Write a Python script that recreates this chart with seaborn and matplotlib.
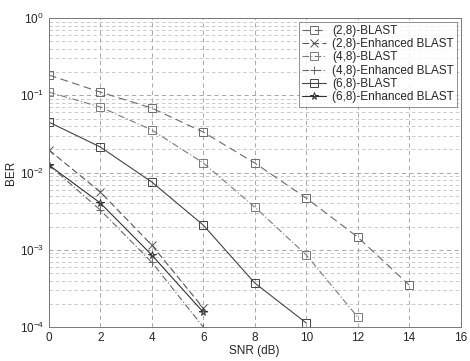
import numpy as np
import pandas as pd
import matplotlib
matplotlib.use("Agg")
import matplotlib.pyplot as plt
import seaborn as sns

# values (BER on log scale)
snr_28 = [0, 2, 4, 6, 8, 10, 12, 14]
ber_28 = [0.183, 0.110, 0.0684, 0.0334, 0.0133, 0.00468, 0.00146, 0.00035]

snr_48 = [0, 2, 4, 6, 8, 10, 12]
ber_48 = [0.110, 0.0705, 0.0355, 0.0133, 0.00357, 0.00086, 0.000135]

snr_68 = [0, 2, 4, 6, 8, 10]
ber_68 = [0.045, 0.0214, 0.00753, 0.00209, 0.000372, 0.000113]

snr_enh = [0, 2, 4, 6]
ber_28_enh = [0.0196, 0.0056, 0.00115, 0.000176]
ber_48_enh = [0.0125, 0.00327, 0.00069, 0.000100]
ber_68_enh = [0.0125, 0.00403, 0.000855, 0.000156]

series = [
    ("(2,8)-BLAST", snr_28, ber_28, (0, (7, 4)), "s", "#6a6a6a"),
    ("(2,8)-Enhanced BLAST", snr_enh, ber_28_enh, (0, (6, 3)), "x", "#555555"),
    ("(4,8)-BLAST", snr_48, ber_48, (0, (6, 2, 1, 2)), "s", "#7a7a7a"),
    ("(4,8)-Enhanced BLAST", snr_enh, ber_48_enh, (0, (6, 2, 1, 2)), "+", "#666666"),
    ("(6,8)-BLAST", snr_68, ber_68, "-", "s", "#444444"),
    ("(6,8)-Enhanced BLAST", snr_enh, ber_68_enh, "-", "*", "#333333"),
]

sns.set_style("white")
plt.rcParams["font.family"] = ["Liberation Sans", "DejaVu Sans"]

fig = plt.figure(figsize=(4.7, 3.61), dpi=100)
ax = fig.add_axes([0.104, 0.094, 0.876, 0.856])

for name, x, y, ls, mk, col in series:
    df = pd.DataFrame({"SNR": x, "BER": y})
    sns.lineplot(data=df, x="SNR", y="BER", ax=ax, label=name, color=col,
                 linestyle=ls, linewidth=0.8, marker=mk, markersize=5.5,
                 markerfacecolor="none", markeredgecolor=col,
                 markeredgewidth=0.7)

ax.set_yscale("log")
ax.set_xlim(0, 16)
ax.set_ylim(1e-4, 1)
ax.set_xticks(np.arange(0, 17, 2))
ax.grid(True, which="major", color="#9a9a9a", linestyle=(0, (5, 4)), linewidth=0.6)
ax.grid(True, which="minor", axis="y", color="#b5b5b5", linestyle=(0, (5, 4)), linewidth=0.5)
ax.tick_params(axis="both", which="major", labelsize=8.5, direction="in", length=3)
ax.tick_params(axis="y", which="minor", direction="in", length=2)
for sp in ax.spines.values():
    sp.set_color("#777777")
    sp.set_linewidth(0.7)

ax.set_xlabel("SNR (dB)", fontsize=8.5, labelpad=1)
ax.set_ylabel("BER", fontsize=8.5, labelpad=2)

leg = ax.legend(loc="upper right", fontsize=8.5, frameon=True, fancybox=False,
                borderpad=0.3, labelspacing=0.1, handlelength=2.0,
                handletextpad=0.5, borderaxespad=0.3)
leg.get_frame().set_edgecolor("#777777")
leg.get_frame().set_linewidth(0.7)

fig.savefig("out.png", dpi=100)
